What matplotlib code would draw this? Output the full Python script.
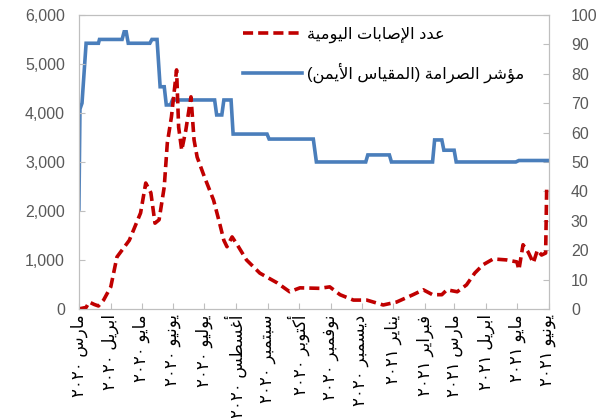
import re
import matplotlib
matplotlib.use('Agg')
import matplotlib.pyplot as plt
import pandas as pd

plt.rcParams['font.family'] = ['Liberation Sans', 'DejaVu Sans']

# daily new cases (left axis), x = days since 1 March 2020
case_day = [0, 7, 10, 15, 19, 24, 31, 37, 49, 60, 65, 70, 74, 78, 83, 86,
            90, 95, 97, 100, 104, 109, 112, 115, 122, 131, 136, 141, 144, 149,
            154, 163, 176, 193, 205, 215, 234, 244, 254, 267, 280, 296, 309,
            325, 335, 344, 353, 358, 368, 377, 385, 393, 403, 416, 426, 428,
            432, 437, 442, 446, 450, 454, 455]
case_val = [0, 30, 140, 90, 60, 180, 450, 1060, 1400, 1960, 2570, 2370, 1750,
            1820, 2490, 3390, 3920, 4880, 3710, 3240, 3650, 4330, 3450, 3100,
            2700, 2220, 1820, 1400, 1270, 1470, 1310, 1000, 730, 530, 350, 430,
            420, 450, 290, 180, 180, 80, 140, 290, 390, 290, 290, 390, 350, 490,
            730, 900, 1020, 1000, 960, 800, 1310, 1160, 940, 1200, 1100, 1140,
            2470]

# stringency index (right axis)
str_day = [0, 1, 3, 7, 19, 20, 42, 44, 46, 48, 69, 71, 76, 79, 83, 85, 89, 91,
           132, 134, 139, 141, 148, 150, 183, 185, 228, 231, 279, 281, 302, 304,
           344, 346, 353, 355, 365, 367, 425, 428, 456]
str_val = [34, 68, 70, 90.4, 90.4, 91.7, 91.7, 94.3, 94.3, 90.4, 90.4, 91.7,
           91.7, 75.6, 75.6, 69.4, 69.4, 71.1, 71.1, 66, 66, 71.1, 71.1, 59.5,
           59.5, 57.8, 57.8, 50, 50, 52.4, 52.4, 50, 50, 57.5, 57.5, 54, 54, 50,
           50, 50.5, 50.5]

tick_labels = ['مارس ٢٠٢٠', 'ابريل ٢٠٢٠', 'مايو ٢٠٢٠', 'يونيو ٢٠٢٠',
               'يوليو ٢٠٢٠', 'أغسطس ٢٠٢٠', 'سبتمبر ٢٠٢٠', 'أكتوبر ٢٠٢٠',
               'نوفمبر ٢٠٢٠', 'ديسمبر ٢٠٢٠', 'يناير ٢٠٢١', 'فبراير ٢٠٢١',
               'مارس ٢٠٢١', 'ابريل ٢٠٢١', 'مايو ٢٠٢١', 'يونيو ٢٠٢١']
label_cases = 'عدد الإصابات اليومية'
label_str = 'مؤشر الصرامة (المقياس الأيمن)'

# matplotlib has no arabic shaping, so pick presentation forms by hand
FORMS = {
    'ا': (0xFE8D, False), 'أ': (0xFE83, False), 'إ': (0xFE87, False),
    'ؤ': (0xFE85, False), 'ة': (0xFE93, False), 'د': (0xFEA9, False),
    'ر': (0xFEAD, False), 'ز': (0xFEAF, False), 'و': (0xFEED, False),
    'ب': (0xFE8F, True), 'ت': (0xFE95, True), 'س': (0xFEB1, True),
    'ش': (0xFEB5, True), 'ص': (0xFEB9, True), 'ط': (0xFEC1, True),
    'ع': (0xFEC9, True), 'غ': (0xFECD, True), 'ف': (0xFED1, True),
    'ق': (0xFED5, True), 'ك': (0xFED9, True), 'ل': (0xFEDD, True),
    'م': (0xFEE1, True), 'ن': (0xFEE5, True), 'ه': (0xFEE9, True),
    'ي': (0xFEF1, True),
}
LAM_ALEF = {'ا': 0xFEFB, 'أ': 0xFEF7, 'إ': 0xFEF9}


def rtl(text):
    toks = []
    i = 0
    while i < len(text):
        c = text[i]
        if c == 'ل' and i + 1 < len(text) and text[i + 1] in LAM_ALEF:
            toks.append((LAM_ALEF[text[i + 1]], False))
            i += 2
            continue
        toks.append(FORMS.get(c, (c, None)))
        i += 1
    out = []
    for k, (base, dual) in enumerate(toks):
        if dual is None:
            out.append(base)
            continue
        prev = k > 0 and toks[k - 1][1] is True
        nxt = dual and k + 1 < len(toks) and toks[k + 1][1] is not None
        off = 3 if (prev and nxt) else 1 if prev else 2 if nxt else 0
        out.append(chr(base + off))
    vis = ''.join(out)[::-1].translate(str.maketrans('()', ')('))
    return re.sub(r'[0-9\u0660-\u0669]+', lambda m: m.group(0)[::-1], vis)


grey = '#BFBFBF'
txt = '#595959'

fig = plt.figure(figsize=(6.07, 4.18), dpi=100)
ax = fig.add_axes([0.130, 0.261, 0.774, 0.703])
ax2 = ax.twinx()
ax.set_zorder(ax2.get_zorder() + 1)
ax.patch.set_visible(False)

l2, = ax2.plot(str_day, str_val, color='#4A7EBB', lw=2.6, solid_joinstyle='miter')
l1, = ax.plot(case_day, case_val, color='#C00000', lw=2.6, dashes=(2.8, 1.4))

start = pd.Timestamp('2020-03-01')
months = pd.date_range('2020-03-01', '2021-06-01', freq='MS')
ticks = list((months - start).days)

ax.set_xlim(0, ticks[-1])
ax.set_ylim(0, 6000)
ax2.set_ylim(0, 100)
ax.set_yticks(range(0, 6001, 1000))
ax.set_yticklabels([f'{v:,}' for v in range(0, 6001, 1000)])
ax2.set_yticks(range(0, 101, 10))
ax.set_xticks(ticks)
ax.set_xticklabels([rtl(s) for s in tick_labels], rotation=90, va='top',
                   ha='center')

for a in (ax, ax2):
    for s in a.spines.values():
        s.set_color(grey)
    a.tick_params(direction='in', color=grey, length=4, labelsize=11.5,
                  labelcolor=txt)
ax.tick_params(axis='y', pad=10)
ax2.tick_params(axis='y', pad=16)
ax.tick_params(axis='x', labelcolor='black', labelsize=12, pad=4)

ax.legend([l1, l2], [rtl(label_cases), rtl(label_str)], loc='upper left',
          bbox_to_anchor=(0.349, 0.96), frameon=False, fontsize=11.8,
          handlelength=3.6, labelspacing=1.2, handletextpad=0.3,
          borderpad=0, borderaxespad=0)

fig.savefig('out.png', dpi=100)
